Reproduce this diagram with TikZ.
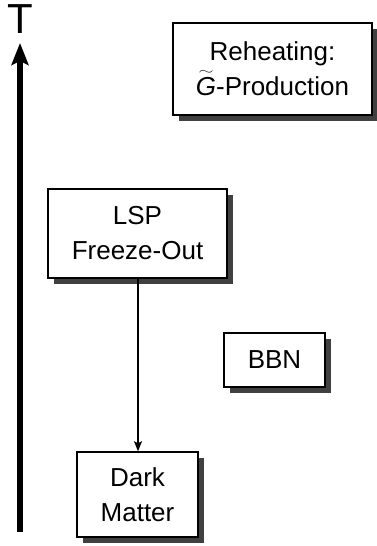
\documentclass[tikz,border=0pt]{standalone}
\usepackage{fontspec}
\setmainfont{Liberation Sans}
\usetikzlibrary{shadows,arrows.meta}
\newcommand{\wideG}{\ooalign{\itshape G\cr\hidewidth\raisebox{21pt}{\resizebox{15pt}{4pt}{$\sim$}}\hidewidth\cr}}
\tikzset{
  box/.style={draw, line width=1.5pt, fill=white, align=center, inner sep=0pt,
    font=\fontsize{26}{35}\selectfont,
    drop shadow={shadow xshift=6pt, shadow yshift=-6pt, fill=black!75, opacity=1}},
  conn/.style={line width=1.3pt, -{Stealth[length=10pt, width=8pt, inset=2pt]}},
  axis/.style={line width=5.5pt, -{Stealth[length=22pt, width=17pt, inset=4pt]}}
}
\begin{document}
\begin{tikzpicture}[x=1pt, y=-1pt]
\useasboundingbox (0,0) rectangle (377,546);
\node[box, minimum width=199pt, minimum height=92pt] (reh) at (272.5,69)
  {Reheating:\\\wideG-Production};
\node[box, minimum width=179pt, minimum height=89pt] (lsp) at (137.5,233.5)
  {LSP\\Freeze-Out};
\node[box, minimum width=101pt, minimum height=54pt] (bbn) at (274.5,360)
  {BBN};
\node[box, minimum width=121pt, minimum height=85pt] (dm) at (137.5,494.5)
  {Dark\\Matter};
\coordinate (tlow) at (20,532);
\coordinate (thigh) at (20,43);
\draw[axis] (tlow) -- (thigh);
\node[font=\fontsize{42}{42}\selectfont, inner sep=0pt] (T) at (20,19) {T};
\draw[conn] (lsp.south -| 138,0) -- (dm.north -| 138,0);
\end{tikzpicture}
\end{document}
